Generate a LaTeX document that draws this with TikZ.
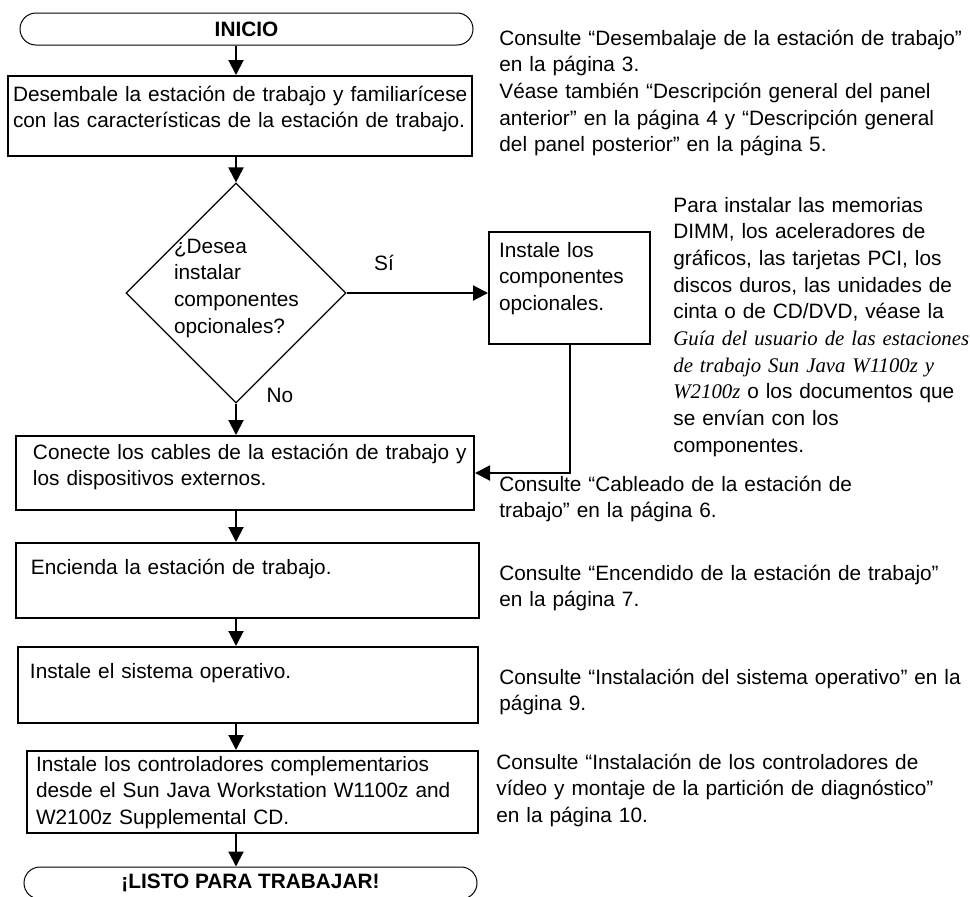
\documentclass[tikz,border=0pt]{standalone}
\usepackage{fontspec}
\setmainfont{Liberation Sans}
\newfontfamily\guidefont{Liberation Serif}
\usetikzlibrary{arrows.meta,shapes.geometric}

\newcommand\flowfont{\fontsize{10.4pt}{13.35pt}\selectfont}

\tikzset{
  stepbox/.style={draw, line width=1pt, anchor=north west, inner sep=0pt, align=left},
  lpad/.style={execute at begin node={\leftskip=#1 \rightskip=0pt plus 1fil minus 12pt\relax}},
  endbox/.style={draw, line width=0.5pt, rounded corners=8pt, inner sep=0pt,
    minimum width=226.5pt, minimum height=16pt, font=\flowfont\bfseries},
  note/.style={anchor=base west, inner sep=0pt, align=left, text width=240pt, lpad=0pt},
  flow/.style={line width=1pt, -{Triangle[length=7.5pt,width=7.5pt]}},
}

\begin{document}
\begin{tikzpicture}[x=0.5pt, y=-0.5pt, font=\flowfont]
% \draw[help lines, step=50] (0,0) grid (970,896);
\useasboundingbox (0,0) rectangle (970,896);

\begin{scope}
    % left column, top to bottom
    \node[endbox] (inicio) at (246.5,29) {INICIO\hspace{11.5pt}};
    \node[stepbox, lpad=2.5pt, text width=232pt, text height=12.5pt, text depth=27.5pt] (unpack) at (7,75)
        {Desembale la estación de trabajo y familiarícese\\con las características de la estación de trabajo.};
    \node[draw, diamond, line width=0.6pt, inner sep=0pt, minimum width=110pt, minimum height=109pt,
        text width=62pt, text height=4pt, text depth=44pt, align=left, lpad=0pt] (dec) at (236,293)
        {¿Desea\\instalar\\componentes\\opcionales?};
    \node[stepbox, lpad=5pt, text width=80.5pt, text height=12.5pt, text depth=43.5pt] (optbox) at (488,231)
        {Instale los\\componentes\\opcionales.};
    \node[stepbox, lpad=8.5pt, text width=229pt, text height=11.5pt, text depth=25.5pt] (cables) at (15,435)
        {Conecte los cables de la estación de trabajo y\\los dispositivos externos.};
    \node[stepbox, lpad=7.5pt, text width=231.5pt, text height=15.5pt, text depth=22pt] (power) at (15,542)
        {Encienda la estación de trabajo.};
    \node[stepbox, lpad=6pt, text width=230pt, text height=15.5pt, text depth=22.5pt] (os) at (17,646)
        {Instale el sistema operativo.};
    \node[stepbox, lpad=4.5pt, text width=225.5pt, text height=10pt, text depth=31pt] (drivers) at (26,750)
        {Instale los controladores complementarios\\desde el Sun Java Workstation W1100z and\\W2100z Supplemental CD.};
    \node[endbox] (listo) at (250.5,883) {¡LISTO PARA TRABAJAR!\hspace{21.5pt}};

    \node[inner sep=0pt] (si) at (384,263) {Sí};
    \node[inner sep=0pt] (no) at (280,395) {No};
\end{scope}

\begin{scope}
    % references on the right
    \node[note] (refunpack) at (499,45)
        {Consulte “Desembalaje de la estación de trabajo”\\en la página 3.\\Véase también “Descripción general del panel\\anterior” en la página 4 y “Descripción general\\del panel posterior” en la página 5.};
    \node[note] (refopt) at (673,212)
        {Para instalar las memorias\\DIMM, los aceleradores de\\gráficos, las tarjetas PCI, los\\discos duros, las unidades de\\cinta o de CD/DVD, véase la\\{\guidefont\itshape Guía del usuario de las estaciones}\\{\guidefont\itshape de trabajo Sun Java W1100z y}\\{\guidefont\itshape W2100z} o los documentos que\\se envían con los\\componentes.};
    \node[note] (refcables) at (499,491)
        {Consulte “Cableado de la estación de\\trabajo” en la página 6.};
    \node[note] (refpower) at (499,580)
        {Consulte “Encendido de la estación de trabajo”\\en la página 7.};
    \node[note] (refos) at (499,684)
        {Consulte “Instalación del sistema operativo” en la\\página 9.};
    \node[note] (refdrivers) at (496,769)
        {Consulte “Instalación de los controladores de\\vídeo y montaje de la partición de diagnóstico”\\en la página 10.};
\end{scope}

\begin{scope}
    \foreach \from/\to in {inicio/unpack, unpack/dec, dec/cables, cables/power, power/os, os/drivers, drivers/listo}
        \draw[flow] (\from.south -| dec.center) -- (\to.north -| dec.center);
    \draw[flow] (dec.east) -- (dec.east -| optbox.west);
    \draw[flow] (optbox.south) |- (cables.east);
\end{scope}
\end{tikzpicture}
\end{document}
